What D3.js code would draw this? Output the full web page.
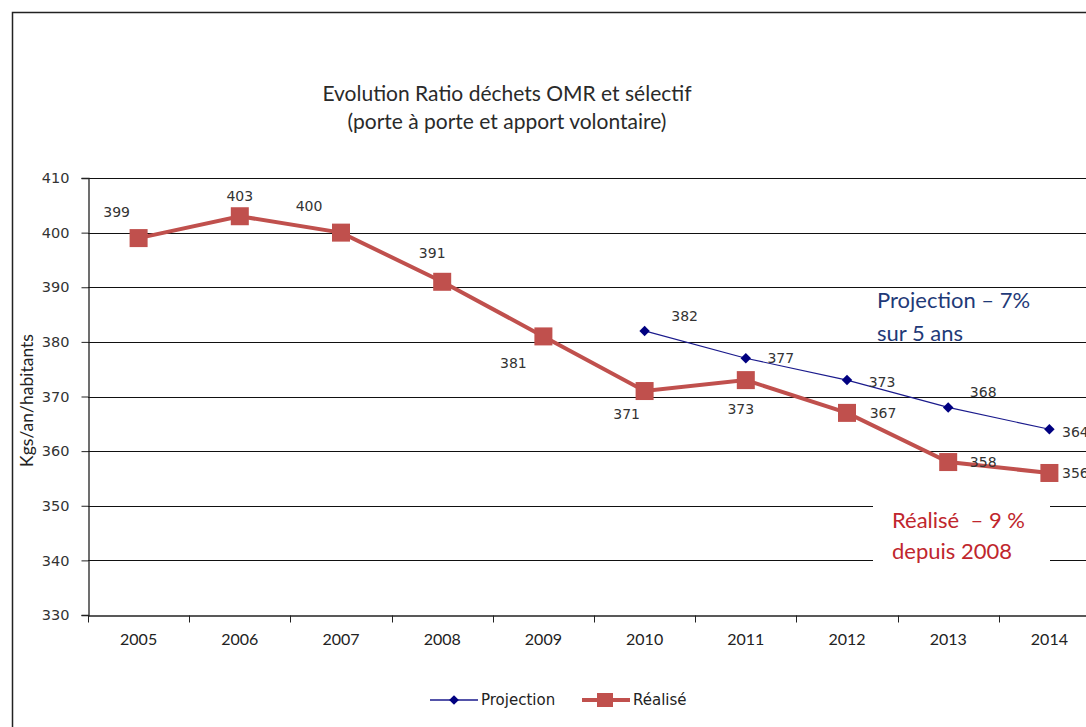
<!DOCTYPE html>
<html>
<head>
<meta charset="utf-8">
<script src="https://cdn.jsdelivr.net/npm/d3@7"></script>
<style>
  body { margin: 0; background: #fff; }
  svg { display: block; }
</style>
</head>
<body>
<div id="plot"></div>
<script>
// years, and the two series (kg per inhabitant per year)
const years = ["2005", "2006", "2007", "2008", "2009", "2010", "2011", "2012", "2013", "2014"];
const realise = [399, 403, 400, 391, 381, 371, 373, 367, 358, 356];
const projYears = ["2010", "2011", "2012", "2013", "2014"];
const projection = [382, 377, 373, 368, 364];
const yTicks = [330, 340, 350, 360, 370, 380, 390, 400, 410];

// where each value label sits relative to its point
const realiseLabelOffset = [[-22, -21], [0, -15], [-32, -22], [-10, -24], [-30, 32], [-18, 28], [-5, 34], [36, 5], [35, 5], [26, 5]];
const projLabelOffset = [[40, -10], [35, 5], [35, 7], [35, -10], [26, 8]];

const W = 1086, H = 727;
const margin = {left: 88, top: 178, right: -14, bottom: 112};

const svg = d3.select("#plot").append("svg").attr("width", W).attr("height", H).attr("viewBox", [0, 0, W, H]);

const calib = "Lato, 'Open Sans', sans-serif";
const verd = "'DejaVu Sans', Verdana, sans-serif";

// outer frame
svg.append("rect").attr("x", 12.5).attr("y", 12.5).attr("width", 1100).attr("height", 740)
  .attr("fill", "none").attr("stroke", "#222").attr("stroke-width", 1.5);

// title
svg.append("text").attr("x", 507).attr("y", 101).attr("text-anchor", "middle")
  .attr("font-family", calib).attr("font-size", 21).attr("fill", "#2a2a2a")
  .text("Evolution Ratio déchets OMR et sélectif");
svg.append("text").attr("x", 507).attr("y", 129).attr("text-anchor", "middle")
  .attr("font-family", calib).attr("font-size", 21).attr("fill", "#2a2a2a")
  .text("(porte à porte et apport volontaire)");

const x = d3.scaleBand().domain(years).range([margin.left, W - margin.right]);
const y = d3.scaleLinear().domain([330, 410]).range([H - margin.bottom, margin.top]);

// horizontal gridlines
svg.append("g").selectAll("line").data(yTicks.slice(1)).join("line")
  .attr("x1", margin.left).attr("x2", W)
  .attr("y1", d => Math.round(y(d)) + 0.5).attr("y2", d => Math.round(y(d)) + 0.5)
  .attr("stroke", "#111").attr("stroke-width", 1.2);

// y axis
const yAxis = svg.append("g").attr("transform", `translate(${margin.left + 0.5},0)`)
  .call(d3.axisLeft(y).tickValues(yTicks).tickSize(7).tickPadding(12).tickFormat(d3.format("d")));
yAxis.select(".domain").attr("stroke", "#222").attr("stroke-width", 1.3);
yAxis.selectAll(".tick line").attr("stroke", "#222");
yAxis.selectAll("text").attr("font-family", verd).attr("font-size", 14.5).attr("fill", "#333");

// x axis, ticks on the category boundaries
const xAxis = svg.append("g").attr("transform", `translate(0,${Math.round(y(330)) + 0.5})`)
  .call(d3.axisBottom(x).tickSize(0).tickPadding(18));
xAxis.select(".domain").attr("stroke", "#222").attr("stroke-width", 1.3);
xAxis.selectAll("text").attr("font-family", calib).attr("font-size", 16).attr("fill", "#222");
xAxis.selectAll(".bound").data(years).join("line").attr("class", "bound")
  .attr("x1", d => Math.round(x(d)) + 0.5).attr("x2", d => Math.round(x(d)) + 0.5)
  .attr("y1", 0).attr("y2", 7).attr("stroke", "#222");

// y axis title
svg.append("text").attr("transform", `translate(33,${(y(330) + y(410)) / 2 + 4}) rotate(-90)`)
  .attr("text-anchor", "middle").attr("font-family", calib).attr("font-size", 17.5).attr("fill", "#222")
  .text("Kgs/an/habitants");

const cx = d => x(d) + x.bandwidth() / 2;
const line = d3.line().x(d => cx(d[0])).y(d => y(d[1]));

const realData = years.map((yr, i) => [yr, realise[i]]);
const projData = projYears.map((yr, i) => [yr, projection[i]]);

// annotation box for the "Réalisé" note hides the gridlines behind it
svg.append("rect").attr("x", 873).attr("y", 500).attr("width", 177).attr("height", 66).attr("fill", "#fff");

// Réalisé series
svg.append("path").datum(realData).attr("d", line)
  .attr("fill", "none").attr("stroke", "#c0504d").attr("stroke-width", 4);
svg.append("g").selectAll("rect").data(realData).join("rect")
  .attr("x", d => cx(d[0]) - 9).attr("y", d => y(d[1]) - 9)
  .attr("width", 18).attr("height", 18).attr("fill", "#c0504d");

// Projection series
svg.append("path").datum(projData).attr("d", line)
  .attr("fill", "none").attr("stroke", "#1a1a8c").attr("stroke-width", 1.2);
svg.append("g").selectAll("path").data(projData).join("path")
  .attr("transform", d => `translate(${cx(d[0])},${y(d[1])})`)
  .attr("d", d3.symbol(d3.symbolDiamond2, 70)).attr("fill", "#000080");

// value labels
const labelStyle = s => s.attr("text-anchor", "middle").attr("font-family", verd)
  .attr("font-size", 14).attr("fill", "#333");
svg.append("g").selectAll("text").data(realData).join("text")
  .attr("x", (d, i) => cx(d[0]) + realiseLabelOffset[i][0])
  .attr("y", (d, i) => y(d[1]) + realiseLabelOffset[i][1])
  .call(labelStyle).text(d => d[1]);
svg.append("g").selectAll("text").data(projData).join("text")
  .attr("x", (d, i) => cx(d[0]) + projLabelOffset[i][0])
  .attr("y", (d, i) => y(d[1]) + projLabelOffset[i][1])
  .call(labelStyle).text(d => d[1]);

// notes
const note = (tx, ty, txt, col) => svg.append("text").attr("x", tx).attr("y", ty)
  .attr("font-family", calib).attr("font-size", 22).attr("fill", col).text(txt);
note(877, 308, "Projection – 7%", "#1f3a78");
note(877, 341, "sur 5 ans", "#1f3a78");
note(892, 528, "Réalisé  – 9 %", "#c0262d").attr("xml:space", "preserve").style("white-space", "pre");
note(892, 559, "depuis 2008", "#c0262d");

// legend
const lg = svg.append("g").attr("font-family", verd).attr("font-size", 15).attr("fill", "#222");
lg.append("line").attr("x1", 430).attr("x2", 478).attr("y1", 700).attr("y2", 700)
  .attr("stroke", "#1a1a8c").attr("stroke-width", 1.5);
lg.append("path").attr("transform", "translate(454,700)")
  .attr("d", d3.symbol(d3.symbolDiamond2, 60)).attr("fill", "#000080");
lg.append("text").attr("x", 481).attr("y", 705).text("Projection");
lg.append("line").attr("x1", 582).attr("x2", 630).attr("y1", 700).attr("y2", 700)
  .attr("stroke", "#c0504d").attr("stroke-width", 4);
lg.append("rect").attr("x", 597).attr("y", 693).attr("width", 16).attr("height", 14).attr("fill", "#c0504d");
lg.append("text").attr("x", 633).attr("y", 705).text("Réalisé");
</script>
</body>
</html>
